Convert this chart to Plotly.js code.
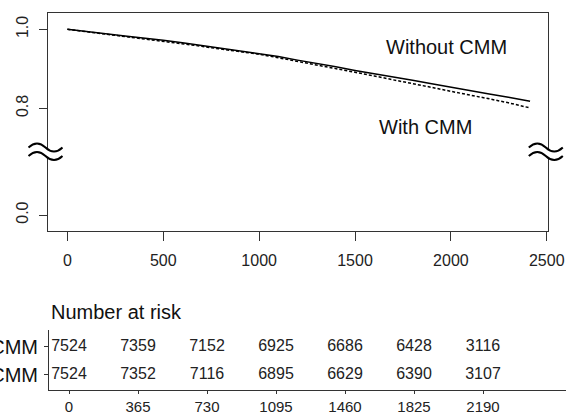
<!DOCTYPE html>
<html>
<head>
<meta charset="utf-8">
<script src="https://cdn.plot.ly/plotly-3.0.1.min.js"></script>
<style>html,body{margin:0;padding:0;background:#fff;}#chart{width:566px;height:414px;}</style>
</head>
<body>
<div id="chart"></div>
<script>
// ---- data ----
var timeWithout = [0,100,200,300,400,500,600,700,800,900,1000,1100,1200,1300,1400,1500,1600,1700,1800,1900,2000,2100,2200,2300,2413];
var survWithout = [1.000,0.995,0.989,0.983,0.978,0.972,0.966,0.959,0.952,0.946,0.939,0.931,0.922,0.914,0.905,0.896,0.888,0.879,0.871,0.862,0.853,0.845,0.836,0.828,0.818];
var timeWith = [0,100,200,300,400,500,600,700,800,900,1000,1100,1200,1300,1400,1500,1600,1700,1800,1900,2000,2100,2200,2300,2413];
var survWith = [1.000,0.994,0.988,0.982,0.976,0.970,0.964,0.957,0.950,0.944,0.937,0.928,0.919,0.910,0.900,0.891,0.882,0.872,0.863,0.853,0.843,0.834,0.824,0.814,0.801];

var xTickVals = [0,500,1000,1500,2000,2500];
var yTickVals = [0.53,0.8,1.0];          // 0.0 sits below the axis break
var yTickText = ['0.0','0.8','1.0'];

var groupLabels = ['Without CMM','With CMM'];
var riskTimes = [0,365,730,1095,1460,1825,2190];
var riskWithout = [7524,7359,7152,6925,6686,6428,3116];
var riskWith = [7524,7352,7116,6895,6629,6390,3107];

// ---- helpers (pixel -> paper, margins are 0) ----
var W = 566, H = 414;
function px(x){ return x / W; }
function py(y){ return 1 - y / H; }
function tilde(x0, w, cy, a){
  return 'M' + px(x0) + ',' + py(cy) +
    ' Q' + px(x0 + w/4) + ',' + py(cy - 2*a) + ' ' + px(x0 + w/2) + ',' + py(cy) +
    ' Q' + px(x0 + 3*w/4) + ',' + py(cy + 2*a) + ' ' + px(x0 + w) + ',' + py(cy);
}
function breakShapes(xc){
  var x0 = xc - 19.5, w = 34;
  return [
    {type:'rect', xref:'paper', yref:'paper', x0:px(xc-3), x1:px(xc+3), y0:py(158), y1:py(149.5),
     fillcolor:'#ffffff', line:{width:0}},
    {type:'path', xref:'paper', yref:'paper', path:tilde(x0, w, 147.5, 4), line:{color:'#000', width:2}},
    {type:'path', xref:'paper', yref:'paper', path:tilde(x0, w, 156, 4), line:{color:'#000', width:2}}
  ];
}

var font = 'Liberation Sans, Arial, sans-serif';
var txt = '#222';

var riskX = riskTimes.concat(riskTimes);
var riskY = riskTimes.map(function(){return 2;}).concat(riskTimes.map(function(){return 1;}));
var riskText = riskWithout.concat(riskWith).map(String);

var traces = [
  {x: timeWithout, y: survWithout, type:'scatter', mode:'lines', line:{color:'#000', width:1.5}, xaxis:'x', yaxis:'y', hoverinfo:'skip'},
  {x: timeWith, y: survWith, type:'scatter', mode:'lines', line:{color:'#000', width:1.5, dash:'3px,2px'}, xaxis:'x', yaxis:'y', hoverinfo:'skip'},
  {x: riskX, y: riskY, text: riskText, type:'scatter', mode:'text', textposition:'middle center',
   textfont:{family:font, size:16, color:txt}, xaxis:'x2', yaxis:'y2', cliponaxis:false, hoverinfo:'skip'}
];

var layout = {
  width: W, height: H,
  margin: {l:0, r:0, t:0, b:0},
  paper_bgcolor:'#fff', plot_bgcolor:'#fff',
  showlegend:false,
  font:{family:font, color:txt},
  xaxis: {domain:[px(48), px(548.3)], range:[-101, 2508], anchor:'y',
    tickvals:xTickVals, ticks:'outside', ticklen:9, tickcolor:'#333', tickwidth:1,
    showline:true, mirror:true, linecolor:'#333', linewidth:1,
    showgrid:false, zeroline:false, tickfont:{size:16, color:txt}, ticklabelstandoff:6},
  yaxis: {domain:[py(231), py(13.3)], range:[0.4895, 1.0405], anchor:'x',
    tickvals:yTickVals, ticktext:yTickText, ticks:'outside', ticklen:8, tickcolor:'#333', tickwidth:1,
    tickangle:-90, showline:true, mirror:true, linecolor:'#333', linewidth:1,
    showgrid:false, zeroline:false, tickfont:{size:16, color:txt}, ticklabelstandoff:5},
  xaxis2: {domain:[px(49), 1], range:[-105.8, 2629], anchor:'y2',
    tickvals:riskTimes, ticks:'outside', ticklen:3, tickcolor:'#333', tickwidth:1,
    showline:true, linecolor:'#333', linewidth:1,
    showgrid:false, zeroline:false, tickfont:{size:15, color:txt}},
  yaxis2: {domain:[py(390), py(330)], range:[0.464, 2.607], anchor:'x2',
    tickvals:[2,1], ticktext:groupLabels, ticks:'outside', ticklen:4, tickcolor:'#333', tickwidth:1,
    showline:true, linecolor:'#333', linewidth:1,
    showgrid:false, zeroline:false, tickfont:{size:20, color:'#111'}, ticklabelstandoff:2},
  annotations: [
    {text:'Without CMM', xref:'paper', yref:'paper', x:px(446), y:py(46.7), xanchor:'center', yanchor:'middle',
     showarrow:false, font:{size:20, color:'#111'}},
    {text:'With CMM', xref:'paper', yref:'paper', x:px(425), y:py(126.7), xanchor:'center', yanchor:'middle',
     showarrow:false, font:{size:20, color:'#111'}},
    {text:'Number at risk', xref:'paper', yref:'paper', x:px(49), y:py(312), xanchor:'left', yanchor:'middle',
     showarrow:false, font:{size:20, color:'#111'}}
  ],
  shapes: breakShapes(48).concat(breakShapes(548.3))
};

Plotly.newPlot('chart', traces, layout, {displayModeBar:false, staticPlot:true});
</script>
</body>
</html>
